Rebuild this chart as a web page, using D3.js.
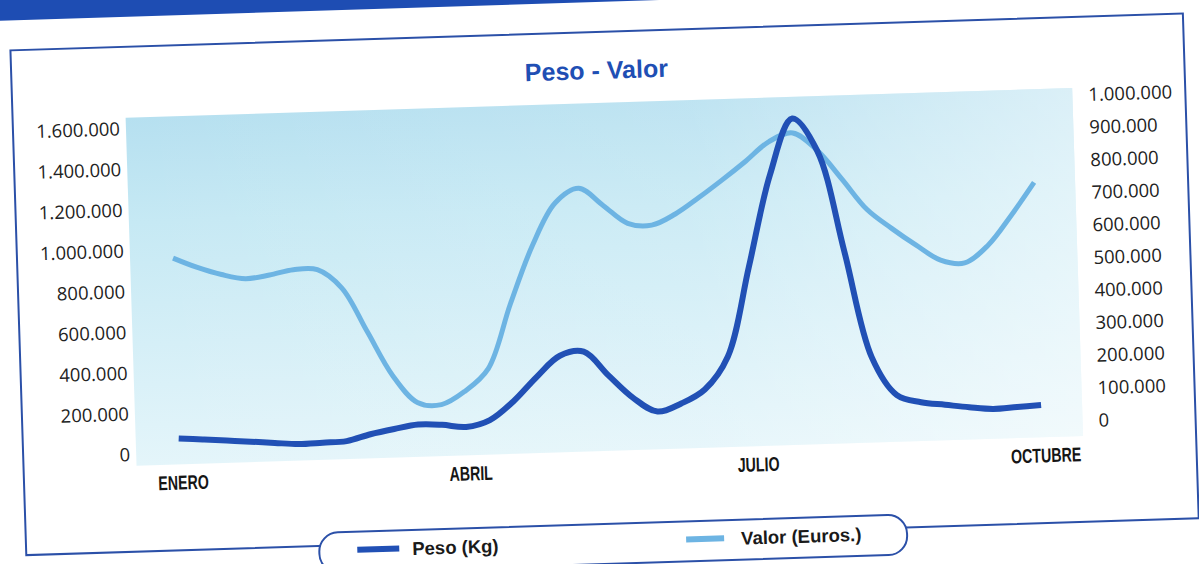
<!DOCTYPE html>
<html>
<head>
<meta charset="utf-8">
<script src="https://cdn.jsdelivr.net/npm/d3@7"></script>
<style>
  html, body { margin: 0; padding: 0; background: #ffffff; }
  svg { display: block; }
</style>
</head>
<body>
<svg id="chart" width="1199" height="564"></svg>
<script>
// ---------------- DATA ----------------
const months = ["ENERO","FEBRERO","MARZO","ABRIL","MAYO","JUNIO","JULIO","AGOSTO","SEPTIEMBRE","OCTUBRE"];
// weekly categories (4 per month), January week 1 to October week 1
const categories = months.slice(0, 9).flatMap(m => [m + " S1", m + " S2", m + " S3", m + " S4"]).concat(["OCTUBRE S1"]);
const tickCategories = ["ENERO S1", "ABRIL S1", "JULIO S1", "OCTUBRE S1"];
const tickLabels = ["ENERO", "ABRIL", "JULIO", "OCTUBRE"];

const pesoKg = [73000, 64000, 55000, 46000, 36000, 27000, 30000, 34000, 64000, 86000,
  104000, 99000, 85000, 115000, 203000, 319000, 420000, 436000, 316000, 202000,
  131000, 167000, 232000, 389000, 828000, 1276000, 1548000, 1385000, 886000, 365000,
  175000, 136000, 120000, 104000, 92000, 98000, 104000];

const valorEuros = [599000, 568000, 544000, 529000, 538000, 552000, 550000, 491000, 355000, 218000,
  133000, 124000, 163000, 230000, 425000, 603000, 731000, 774000, 719000, 662000,
  654000, 686000, 734000, 786000, 841000, 899000, 923000, 867000, 776000, 681000,
  621000, 567000, 519000, 508000, 560000, 649000, 748000];

const leftTicks = [0, 200000, 400000, 600000, 800000, 1000000, 1200000, 1400000, 1600000];
const rightTicks = [0, 100000, 200000, 300000, 400000, 500000, 600000, 700000, 800000, 900000, 1000000];

const seriesNames = ["Peso (Kg)", "Valor (Euros.)"];
const chartTitle = "Peso - Valor";

// ---------------- DRAW ----------------
const esLocale = d3.formatLocale({ decimal: ",", thousands: ".", grouping: [3], currency: ["", " €"] });
const fmt = esLocale.format(",d");

const svg = d3.select("#chart");
const defs = svg.append("defs");

const gV = defs.append("linearGradient").attr("id", "bgV").attr("x1", 0).attr("y1", 0).attr("x2", 0).attr("y2", 1);
gV.append("stop").attr("offset", "0%").attr("stop-color", "#b6e0f0");
gV.append("stop").attr("offset", "30%").attr("stop-color", "#c6e9f4");
gV.append("stop").attr("offset", "100%").attr("stop-color", "#e4f5fa");

const gH = defs.append("linearGradient").attr("id", "bgH").attr("x1", 0).attr("y1", 0).attr("x2", 1).attr("y2", 0);
gH.append("stop").attr("offset", "0%").attr("stop-color", "#ffffff").attr("stop-opacity", 0);
gH.append("stop").attr("offset", "60%").attr("stop-color", "#ffffff").attr("stop-opacity", 0.12);
gH.append("stop").attr("offset", "100%").attr("stop-color", "#ffffff").attr("stop-opacity", 0.5);

const root = svg.append("g").attr("transform", "rotate(-1.8 600 282)");

// top header band
root.append("rect").attr("x", -60).attr("y", -60).attr("width", 1320).attr("height", 62).attr("fill", "#1e4db3");

// outer frame
root.append("rect").attr("x", 18).attr("y", 32).attr("width", 1173).attr("height", 505)
  .attr("fill", "#ffffff").attr("stroke", "#2b50a8").attr("stroke-width", 2);

// title
root.append("text").attr("x", 603).attr("y", 79).attr("text-anchor", "middle")
  .attr("font-family", "'Liberation Sans', Arial, sans-serif").attr("font-weight", "bold")
  .attr("font-size", 25).attr("fill", "#1f4fb4").text(chartTitle);

// plot background
root.append("rect").attr("x", 131).attr("y", 103).attr("width", 947).attr("height", 348).attr("fill", "url(#bgV)");
root.append("rect").attr("x", 131).attr("y", 103).attr("width", 947).attr("height", 348).attr("fill", "url(#bgH)");

// scales
const x = d3.scalePoint().domain(categories).range([174, 1037]);
const yL = d3.scaleLinear().domain([0, 1600000]).range([440, 114]);
const yR = d3.scaleLinear().domain([0, 1000000]).range([440, 114]);

// left axis
const axL = root.append("g").attr("transform", "translate(125,0)")
  .call(d3.axisLeft(yL).tickValues(leftTicks).tickFormat(fmt).tickSize(0).tickPadding(0));
axL.select(".domain").remove();
axL.selectAll("text").attr("font-family", "'Open Sans', 'Noto Sans', sans-serif")
  .attr("font-size", 18.5).attr("fill", "#222");

// right axis
const axR = root.append("g").attr("transform", "translate(1094,-4)")
  .call(d3.axisRight(yR).tickValues(rightTicks).tickFormat(fmt).tickSize(0).tickPadding(0));
axR.select(".domain").remove();
axR.selectAll("text").attr("font-family", "'Open Sans', 'Noto Sans', sans-serif")
  .attr("font-size", 18.5).attr("fill", "#222");

// bottom axis (condensed bold labels)
const labelOf = d3.scaleOrdinal().domain(tickCategories).range(tickLabels);
const axB = root.append("g").attr("transform", "translate(3,462)")
  .call(d3.axisBottom(x).tickValues(tickCategories).tickFormat(labelOf).tickSize(0).tickPadding(0));
axB.select(".domain").remove();
axB.selectAll("text").attr("font-family", "'Liberation Sans', Arial, sans-serif")
  .attr("font-weight", "bold").attr("font-size", 20).attr("fill", "#151515")
  .attr("transform", "scale(0.71,1)");

// lines
const colors = ["#2150b5", "#6db4e3"];
const line = (yScale) => d3.line().x((d, i) => x(categories[i])).y(d => yScale(d)).curve(d3.curveCatmullRom.alpha(0.5));

root.append("path").datum(valorEuros).attr("d", line(yR))
  .attr("fill", "none").attr("stroke", colors[1]).attr("stroke-width", 5).attr("stroke-linejoin", "round");
root.append("path").datum(pesoKg).attr("d", line(yL))
  .attr("fill", "none").attr("stroke", colors[0]).attr("stroke-width", 6).attr("stroke-linejoin", "round");

// legend
const lg = root.append("g");
lg.append("rect").attr("x", 311).attr("y", 524).attr("width", 588).attr("height", 40).attr("rx", 19).attr("ry", 19)
  .attr("fill", "#ffffff").attr("stroke", "#2b50a8").attr("stroke-width", 2);
const legendItems = [
  { name: seriesNames[0], color: colors[0], sx: 349, sw: 42, tx: 404, w: 6 },
  { name: seriesNames[1], color: colors[1], sx: 678, sw: 38, tx: 733, w: 6 }
];
legendItems.forEach(it => {
  lg.append("line").attr("x1", it.sx).attr("x2", it.sx + it.sw).attr("y1", 542).attr("y2", 542)
    .attr("stroke", it.color).attr("stroke-width", it.w);
  lg.append("text").attr("x", it.tx).attr("y", 549)
    .attr("font-family", "'Liberation Sans', Arial, sans-serif").attr("font-weight", "bold")
    .attr("font-size", 18.5).attr("fill", "#1a1a1a").text(it.name);
});
</script>
</body>
</html>
